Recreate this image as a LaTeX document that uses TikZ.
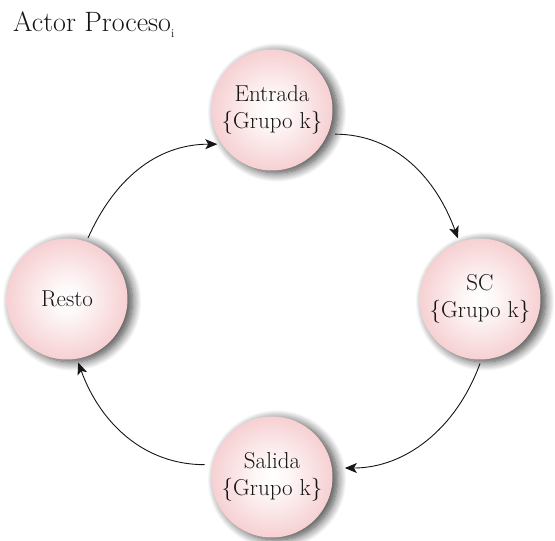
\documentclass[tikz,border=0pt]{standalone}
\usetikzlibrary{shadows.blur,arrows.meta}

\definecolor{ballpink}{RGB}{240,174,178}
\definecolor{inktext}{RGB}{22,20,20}

% soft pink sphere: white core fading to pink at the rim
\pgfdeclareradialshading{ballshade}{\pgfpoint{0bp}{0bp}}{%
  color(0bp)=(white); color(6bp)=(white!92!ballpink);
  color(24bp)=(white!45!ballpink);
  color(43bp)=(ballpink); color(50bp)=(ballpink)}

\tikzset{
  ball/.style={circle, minimum size=121pt, inner sep=0pt, outer sep=4pt,
    shading=ballshade,
    blur shadow={shadow xshift=5pt, shadow yshift=-2.5pt,
                 shadow blur radius=9pt, shadow opacity=75,
                 shadow blur steps=12},
    font=\fontsize{23}{27}\selectfont, align=center, text=inktext},
  link/.style={-{Stealth[length=12pt,width=10pt,inset=3pt]},
    line width=0.9pt, draw=inktext},
  heading/.style={anchor=base west, inner sep=0pt, text=inktext,
    font=\fontsize{28}{30}\selectfont}
}

\begin{document}
\begin{tikzpicture}[x=1pt, y=1pt]
  \path[use as bounding box] (0,0) rectangle (555,541);

  \node[heading] (title) at (13,509)
    {Actor Proceso\raisebox{-6pt}{\fontsize{12}{12}\selectfont i}};

  \node[ball] (Entrada) at (272,431) {Entrada\\\{Grupo k\}};
  \node[ball] (Resto)   at (67,242)  {Resto};
  \node[ball] (SC)      at (480,242) {SC\\\{Grupo k\}};
  \node[ball] (Salida)  at (272,64)  {Salida\\\{Grupo k\}};

  \draw[link] (Resto.71) to[out=66, in=180] (Entrada.212);
  \draw[link, shorten <=3pt] (Entrada.-22) to[out=0, in=110] (SC.110);
  \draw[link, shorten >=9pt] (SC.-90) to[out=-110, in=0] (Salida.8);
  \draw[link, shorten <=4pt] (Salida.169) to[out=180, in=-70] (Resto.-80);
\end{tikzpicture}
\end{document}
